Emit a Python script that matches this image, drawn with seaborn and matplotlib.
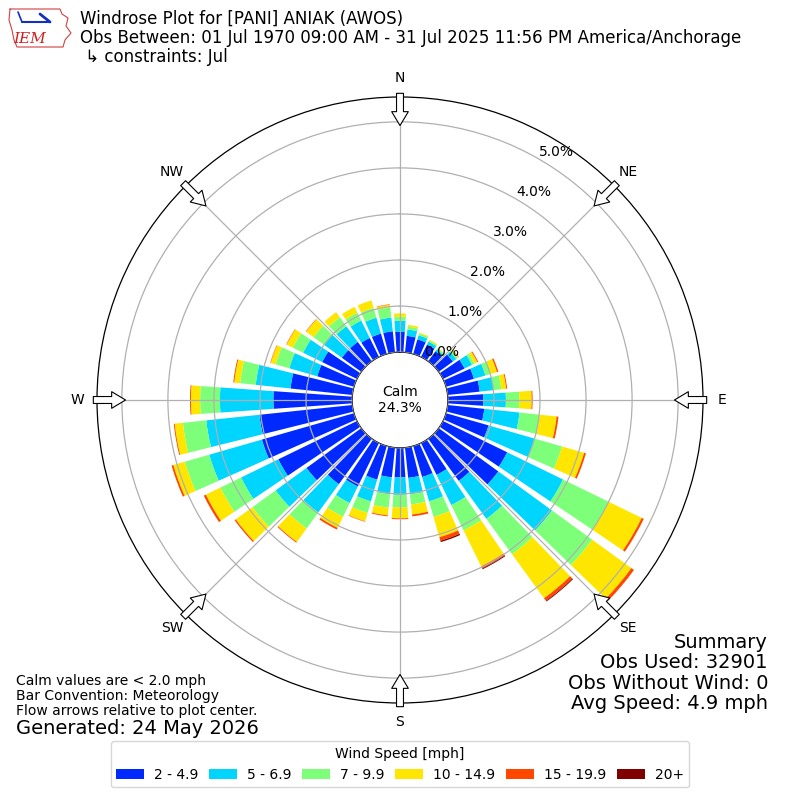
import numpy as np
import pandas as pd
import matplotlib
matplotlib.use("Agg")
import matplotlib.pyplot as plt
import seaborn as sns

# direction bins (deg, meteorological convention) and speed classes
directions = np.arange(0, 360, 10)
speed_labels = ['2 - 4.9', '5 - 6.9', '7 - 9.9', '10 - 14.9', '15 - 19.9', '20+']
compass = ['N', 'NE', 'E', 'SE', 'S', 'SW', 'W', 'NW']
rticks = [0, 1, 2, 3, 4, 5]
calm_pct = 24.3

# frequency [%] of each speed class per direction (0, 10, ... 350 deg)
spd_2 = [0.44, 0.36, 0.33, 0.30, 0.27, 0.38, 0.52, 0.63, 0.70, 0.77, 0.80, 0.96,
         1.55, 1.60, 1.13, 0.77, 0.70, 0.66, 0.64, 0.65, 0.76, 1.05, 1.22, 1.47,
         1.90, 2.08, 2.03, 1.71, 1.35, 0.83, 0.84, 0.52, 0.52, 0.46, 0.46, 0.46]
spd_5 = [0.24, 0.14, 0.09, 0.07, 0.05, 0.09, 0.18, 0.26, 0.30, 0.49, 0.77, 1.04,
         1.35, 1.44, 1.02, 0.73, 0.55, 0.36, 0.38, 0.37, 0.49, 0.40, 0.76, 0.83,
         0.90, 1.19, 1.16, 1.16, 0.76, 0.63, 0.46, 0.48, 0.42, 0.42, 0.36, 0.30]
spd_7 = [0.09, 0.06, 0.04, 0.03, 0.03, 0.04, 0.06, 0.12, 0.17, 0.29, 0.44, 0.62,
         1.10, 1.08, 0.95, 0.61, 0.35, 0.22, 0.27, 0.29, 0.26, 0.33, 0.43, 0.62,
         0.50, 0.55, 0.51, 0.43, 0.34, 0.31, 0.25, 0.28, 0.24, 0.19, 0.22, 0.22]
spd_10 = [0.07, 0.04, 0.02, 0.02, 0.01, 0.02, 0.07, 0.14, 0.11, 0.27, 0.37, 0.50,
          0.80, 1.05, 1.18, 0.87, 0.46, 0.22, 0.24, 0.17, 0.19, 0.27, 0.36, 0.45,
          0.35, 0.26, 0.18, 0.20, 0.13, 0.11, 0.15, 0.20, 0.14, 0.14, 0.17, 0.06]
spd_15 = [0.00, 0.00, 0.00, 0.00, 0.00, 0.01, 0.02, 0.03, 0.02, 0.02, 0.04, 0.04,
          0.05, 0.07, 0.07, 0.05, 0.08, 0.04, 0.02, 0.02, 0.01, 0.04, 0.02, 0.03,
          0.05, 0.04, 0.02, 0.02, 0.02, 0.01, 0.01, 0.01, 0.00, 0.00, 0.00, 0.01]
spd_20 = [0.00, 0.00, 0.00, 0.00, 0.00, 0.00, 0.00, 0.00, 0.00, 0.00, 0.00, 0.00,
          0.00, 0.00, 0.02, 0.02, 0.03, 0.00, 0.00, 0.00, 0.00, 0.00, 0.00, 0.00,
          0.00, 0.00, 0.00, 0.00, 0.00, 0.00, 0.00, 0.00, 0.00, 0.00, 0.00, 0.00]

df = pd.DataFrame({'2': spd_2, '5': spd_5, '7': spd_7, '10': spd_10,
                   '15': spd_15, '20': spd_20}, index=directions)

sns.set_theme(style='white', rc={'text.color': 'black', 'xtick.color': 'black',
                                 'ytick.color': 'black', 'axes.labelcolor': 'black'})
plt.rcParams['font.family'] = ['DejaVu Sans']
colors = plt.get_cmap('jet')(np.arange(1, 7) / 6.0)

fig = plt.figure(figsize=(8, 8), dpi=100)
ax = fig.add_axes([0.12125, 0.12125, 0.7575, 0.7575], projection='polar')
ax.set_theta_zero_location('N')
ax.set_theta_direction(-1)

# stacked bars
theta = np.deg2rad(df.index.values)
bottom = np.zeros(len(df))
for col, color, label in zip(df.columns, colors, speed_labels):
    ax.bar(theta, df[col].values, width=np.deg2rad(8), bottom=bottom,
           color=color, label=label, linewidth=0, zorder=1)
    bottom = bottom + df[col].values

ax.set_ylim(0, 5.54)
ax.set_rorigin(-1.04)
ax.set_rticks(rticks)
ax.set_yticklabels([f'{t:.1f}%' for t in rticks], fontsize=10)
ax.set_rlabel_position(30)
ax.set_thetagrids(np.arange(0, 360, 45), compass, fontsize=10)
ax.tick_params(axis='x', pad=1)
ax.grid(True, color='#b0b0b0', lw=0.9)
ax.set_axisbelow(False)
for sp in ax.spines.values():
    sp.set_color('black')
    sp.set_linewidth(0.9)

# flow arrows on the rim
for ang in np.arange(0, 360, 45):
    ax.annotate('', xy=(np.deg2rad(ang), 4.92), xytext=(np.deg2rad(ang), 5.62),
                arrowprops=dict(arrowstyle='simple,head_length=1.0,head_width=1.2,tail_width=0.5',
                                fc='white', ec='black', lw=0.8, mutation_scale=10,
                                shrinkA=0, shrinkB=0),
                annotation_clip=False, zorder=5)

fig.text(0.5, 0.5, f'Calm\n{calm_pct:.1f}%', ha='center', va='center', fontsize=10)

# header
fig.text(0.1, 0.988, 'Windrose Plot for [PANI] ANIAK (AWOS)\n'
         'Obs Between: 01 Jul 1970 09:00 AM - 31 Jul 2025 11:56 PM America/Anchorage\n'
         ' \u21b3 constraints: Jul', va='top', ha='left', fontsize=12, linespacing=1.08)

# rough IEM logo
def px(x, y):
    return x / 800.0, 1 - y / 800.0

outline = [(10, 9), (60, 9), (62, 14), (68, 18), (66, 26), (71, 33), (65, 40),
           (63, 47), (17, 47), (14, 40), (12, 30), (9, 20), (10, 9)]
fig.add_artist(plt.Line2D([px(*p)[0] for p in outline], [px(*p)[1] for p in outline],
                          color='#d04040', lw=0.8, transform=fig.transFigure))
fig.add_artist(plt.Line2D([px(22, 22)[0], px(50, 22)[0]], [px(22, 22)[1], px(50, 22)[1]],
                          color='#1030c0', lw=1.5, transform=fig.transFigure))
fig.add_artist(plt.Line2D([px(18, 12)[0], px(22, 22)[0]], [px(18, 12)[1], px(22, 22)[1]],
                          color='#1030c0', lw=1.2, transform=fig.transFigure))
fig.add_artist(plt.Line2D([px(40, 14)[0], px(50, 22)[0]], [px(40, 14)[1], px(50, 22)[1]],
                          color='#1030c0', lw=2.0, transform=fig.transFigure))
fig.text(*px(30, 39), 'IEM', color='#d02020', fontsize=11, fontstyle='italic',
         family='DejaVu Serif', ha='center', va='center')

# footer notes
fig.text(0.02, 0.13, 'Calm values are < 2.0 mph\nBar Convention: Meteorology\n'
         'Flow arrows relative to plot center.', va='center', ha='left', fontsize=10,
         linespacing=1.1)
fig.text(0.02, 0.089, 'Generated: 24 May 2026', va='center', ha='left', fontsize=14)
fig.text(0.96, 0.159, 'Summary\nObs Used: 32901\nObs Without Wind: 0\nAvg Speed: 4.9 mph',
         va='center', ha='right', multialignment='right', fontsize=14, linespacing=1.1)

handles, labels = ax.get_legend_handles_labels()
fig.legend(handles, labels, loc='lower center', bbox_to_anchor=(0.5, 0.007), ncol=6,
           title='Wind Speed [mph]', fontsize=10, title_fontsize=10, frameon=True,
           columnspacing=0.8, handletextpad=0.7)

fig.savefig('out.png', dpi=100)
